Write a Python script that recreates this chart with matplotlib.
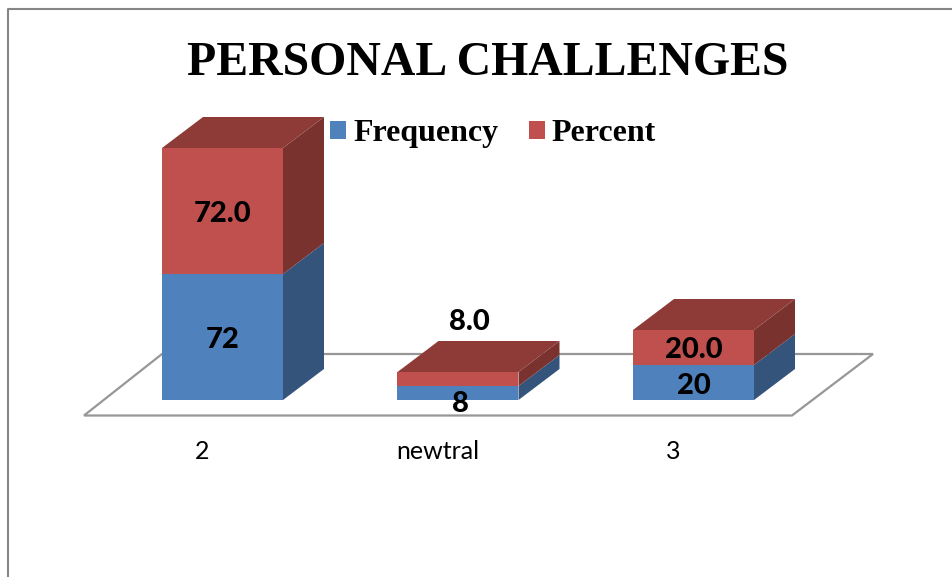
import matplotlib
matplotlib.use('Agg')
import matplotlib.pyplot as plt
from matplotlib.lines import Line2D
import numpy as np

categories = ['2', 'newtral', '3']
frequency = [72, 8, 20]
percent = [72.0, 8.0, 20.0]

W, H = 953, 577
# pixel scale of the picture
px_x = 235.5     # pixels per category
px_y = 1.75      # pixels per unit
base_py = 400    # pixel row of value 0
left_px = 202    # pixel column of first category
ax_bottom_py = 430

def dx(p):
    return p / px_x

def dy(p):
    return p / px_y

fig = plt.figure(figsize=(W / 100, H / 100), dpi=100)
ax = fig.add_axes([0, 1 - ax_bottom_py / H, 1, ax_bottom_py / H])
ax.set_xlim(-left_px / px_x, (W - left_px) / px_x)
ax.set_ylim((base_py - ax_bottom_py) / px_y, base_py / px_y)
ax.patch.set_alpha(0)
for s in ax.spines.values():
    s.set_visible(False)
ax.yaxis.set_visible(False)

x = np.arange(len(categories))
freq = np.array(frequency, dtype=float)
perc = np.array(percent, dtype=float)

shift = dx(-40)
width = dx(121)
depth_x = dx(41)
depth_y = dy(31)

# floor
floor_x = [dx(84 - left_px), dx(792 - left_px), dx(873 - left_px), dx(162 - left_px)]
floor_y = [dy(-15.5), dy(-15.5), dy(46), dy(46)]
ax.fill(floor_x, floor_y, facecolor='white', edgecolor='#979797', linewidth=1.6, zorder=1)

blue, red = '#4F81BD', '#C0504D'
blue_side, red_side = '#34547C', '#7A322F'
red_top = '#8E3B38'

b1 = ax.bar(x + shift, freq, width, align='edge', color=blue, label='Frequency', zorder=3)
b2 = ax.bar(x + shift, perc, width, bottom=freq, align='edge', color=red, label='Percent', zorder=3)

for i in x:
    xl = i + shift
    xr = xl + width
    top = freq[i] + perc[i]
    ax.fill([xr, xr + depth_x, xr + depth_x, xr],
            [0, depth_y, freq[i] + depth_y, freq[i]], color=blue_side, lw=0, zorder=3)
    ax.fill([xr, xr + depth_x, xr + depth_x, xr],
            [freq[i], freq[i] + depth_y, top + depth_y, top], color=red_side, lw=0, zorder=3)
    ax.fill([xl, xr, xr + depth_x, xl + depth_x],
            [top, top, top + depth_y, top + depth_y], color=red_top, lw=0, zorder=3)

# data labels, nudged in pixels where the original moved them
label_font = dict(family='Lato', fontweight='black', fontsize=21, color='black',
                  ha='center', va='center', zorder=5)
freq_nudge_y = [-3, -11, -3]
perc_nudge_y = [-3, 57, -3]
freq_nudge_x = [0, 2, 0]
perc_nudge_x = [0, 11, 0]
for i in x:
    cx = i + shift + width / 2
    ax.text(cx + dx(freq_nudge_x[i]), freq[i] / 2 + dy(freq_nudge_y[i]), '%d' % frequency[i], **label_font)
    ax.text(cx + dx(perc_nudge_x[i]), freq[i] + perc[i] / 2 + dy(perc_nudge_y[i]),
            '%.1f' % percent[i], **label_font)

ax.set_xticks(x)
ax.set_xticklabels(categories, family='Lato', fontsize=18, color='black')
ax.tick_params(axis='x', length=0, pad=7)

ax.legend(handles=[b1, b2], ncol=2, frameon=False, loc='upper left',
          bbox_to_anchor=(330 / W, 1 - 119 / ax_bottom_py), borderpad=0, borderaxespad=0,
          prop=dict(family='Liberation Serif', weight='bold', size=23),
          handlelength=0.5, handleheight=0.5, handletextpad=0.22, columnspacing=0.96)

fig.text(488 / W, 1 - 63 / H, 'PERSONAL CHALLENGES', family='Liberation Serif',
         fontweight='bold', fontsize=34.4, ha='center', va='center', color='black')

# chart frame
fig.add_artist(Line2D([8 / W, 8 / W, 1], [0, 1 - 9 / H, 1 - 9 / H], color='#868686', lw=1.5))

fig.savefig('out.png', dpi=100)
